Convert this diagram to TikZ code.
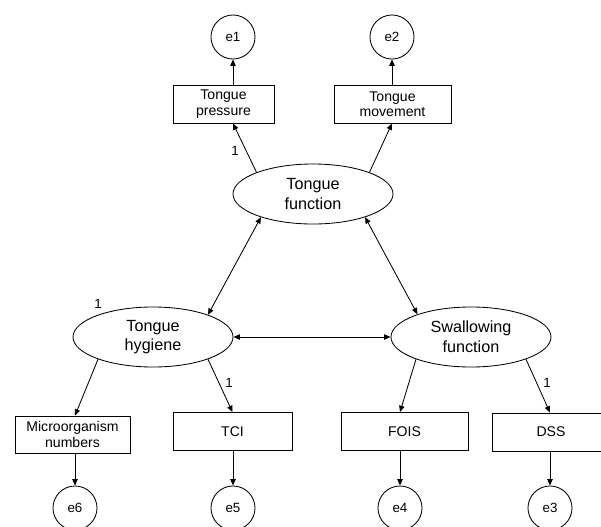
\documentclass[tikz,border=0pt]{standalone}
\usepackage{fontspec}
\setmainfont{Liberation Sans}
\usetikzlibrary{shapes.geometric,arrows.meta}
\begin{document}
\begin{tikzpicture}[x=0.025cm,y=-0.025cm,line width=0.6pt,
  latent/.style={draw,ellipse,minimum width=4cm,minimum height=1.5cm,inner sep=0pt,align=center,font=\fontsize{11.5}{14}\selectfont},
  obs/.style={draw,rectangle,minimum height=0.95cm,inner sep=0pt,align=center,font=\fontsize{10}{11}\selectfont},
  err/.style={draw,circle,minimum size=1.1cm,inner sep=0pt,font=\fontsize{9.5}{11}\selectfont},
  lbl/.style={inner sep=0pt,font=\fontsize{9.5}{11}\selectfont},
  arr/.style={-{Triangle[length=4.5pt,width=3.8pt]}},
  darr/.style={{Triangle[length=4.5pt,width=3.8pt]}-{Triangle[length=4.5pt,width=3.8pt]}}]
\useasboundingbox (0,0) rectangle (601,527);

% error terms
\node[err] (e1) at (233,37) {e1};
\node[err] (e2) at (392,37) {e2};
\node[err] (e6) at (75,508) {e6};
\node[err] (e5) at (233,508) {e5};
\node[err] (e4) at (400,508) {e4};
\node[err] (e3) at (550,508) {e3};

% observed
\node[obs,minimum width=2.525cm] (pressure) at (223.5,104) {Tongue\\pressure};
\node[obs,minimum width=2.925cm] (movement) at (392.5,104) {Tongue\\movement};
\node[obs,minimum width=2.875cm,minimum height=0.925cm] (micro) at (72.5,434.5) {Microorganism\\numbers};
\node[obs,minimum width=2.975cm] (tci) at (232.5,431.5) {TCI};
\node[obs,minimum width=3.175cm] (fois) at (404.5,431.5) {FOIS};
\node[obs,minimum width=2.925cm] (dss) at (551,432) {DSS};

% latent
\node[latent] (tf) at (313,194) {Tongue\\function};
\node[latent] (th) at (153,337) {Tongue\\hygiene};
\node[latent] (sf) at (471,337) {Swallowing\\function};

% loadings
\draw[arr] (tf.159) -- (pressure.south -| e1);
\draw[arr] (tf.21) -- (movement.south -| e2);
\draw[arr] (th.202) -- (micro.north -| e6);
\draw[arr] (th.338) -- (tci.north);
\draw[arr] (sf.202) -- (fois.north -| e4);
\draw[arr] (sf.338) -- (dss.north -| e3);

% errors
\draw[arr] (pressure.north -| e1) -- (e1);
\draw[arr] (movement.north -| e2) -- (e2);
\draw[arr] (micro.south -| e6) -- (e6);
\draw[arr] (tci.south -| e5) -- (e5);
\draw[arr] (fois.south -| e4) -- (e4);
\draw[arr] (dss.south -| e3) -- (e3);

% covariances
\draw[darr] (tf.204) -- (th.22);
\draw[darr] (tf.336) -- (sf.157);
\draw[darr] (th.east) -- (sf.west);

\node[lbl] (l1) at (235,151) {1};
\node[lbl] (l2) at (98,304) {1};
\node[lbl] (l3) at (229,383) {1};
\node[lbl] (l4) at (547,383) {1};
\end{tikzpicture}
\end{document}
